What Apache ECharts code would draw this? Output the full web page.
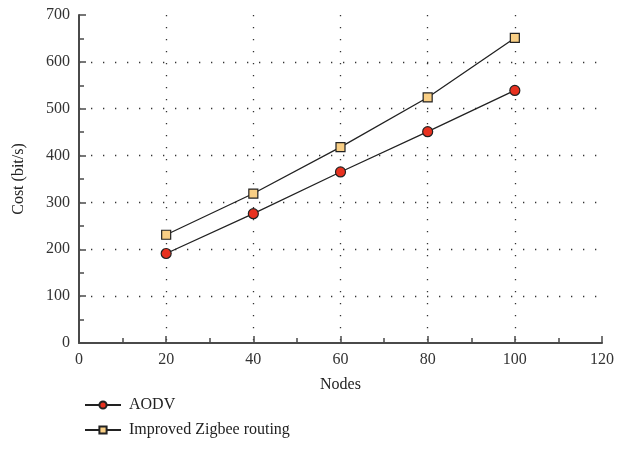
<!DOCTYPE html>
<html>
<head>
<meta charset="utf-8">
<script src="https://cdn.jsdelivr.net/npm/echarts@6/dist/echarts.min.js"></script>
<style>
  html, body { margin: 0; padding: 0; background: #fff; }
  #main { width: 617px; height: 466px; }
</style>
</head>
<body>
<div id="main"></div>
<script>
// data
const nodes = [20, 40, 60, 80, 100]
const aodv = [191, 276, 365, 451, 539]
const zigbee = [231, 319, 418, 524, 651]
const seriesNames = ['AODV', 'Improved Zigbee routing']

const font = 'Liberation Serif'
const axisColor = '#4a4a4a'
const dotted = { color: '#333', width: 1.3, type: [1.3, 10.7] }

const chart = echarts.init(document.getElementById('main'))

const option = {
  animation: false,
  textStyle: { fontFamily: font },
  grid: { left: 79, right: 14, top: 15, bottom: 123 },
  legend: {
    orient: 'vertical',
    left: 79,
    top: 392,
    itemWidth: 36,
    itemHeight: 9,
    itemGap: 9,
    textStyle: { fontFamily: font, fontSize: 16, color: '#222', padding: [0, 0, 0, 3] },
    data: seriesNames
  },
  xAxis: {
    type: 'value',
    min: 0,
    max: 120,
    interval: 20,
    name: 'Nodes',
    nameLocation: 'middle',
    nameGap: 34,
    nameTextStyle: { fontFamily: font, fontSize: 16, color: '#222' },
    axisLine: { lineStyle: { color: axisColor, width: 2 } },
    axisTick: { inside: true, length: 7, lineStyle: { color: axisColor, width: 1.5 } },
    minorTick: { show: true, splitNumber: 2, length: 5, lineStyle: { color: axisColor, width: 1.5 } },
    axisLabel: { fontFamily: font, fontSize: 16, color: '#333', margin: 9 },
    splitLine: {
      show: true,
      lineStyle: {
        ...dotted,
        color: ['rgba(0,0,0,0)', '#333', '#333', '#333', '#333', '#333', 'rgba(0,0,0,0)']
      }
    }
  },
  yAxis: {
    type: 'value',
    min: 0,
    max: 700,
    interval: 100,
    name: 'Cost (bit/s)',
    nameLocation: 'middle',
    nameGap: 52,
    nameTextStyle: { fontFamily: font, fontSize: 16, color: '#222' },
    axisLine: { show: true, lineStyle: { color: axisColor, width: 2 } },
    axisTick: { show: true, inside: true, length: 7, lineStyle: { color: axisColor, width: 1.5 } },
    minorTick: { show: true, splitNumber: 2, length: 5, lineStyle: { color: axisColor, width: 1.5 } },
    axisLabel: { fontFamily: font, fontSize: 16, color: '#333', margin: 9 },
    splitLine: {
      show: true,
      lineStyle: {
        ...dotted,
        color: ['rgba(0,0,0,0)', '#333', '#333', '#333', '#333', '#333', '#333', 'rgba(0,0,0,0)']
      }
    }
  },
  series: [
    {
      name: seriesNames[0],
      type: 'line',
      data: nodes.map((n, i) => [n, aodv[i]]),
      symbol: 'circle',
      symbolSize: 10,
      lineStyle: { color: '#222', width: 1.3 },
      itemStyle: { color: '#e8311f', borderColor: '#222', borderWidth: 1.2 }
    },
    {
      name: seriesNames[1],
      type: 'line',
      data: nodes.map((n, i) => [n, zigbee[i]]),
      symbol: 'rect',
      symbolSize: 9,
      lineStyle: { color: '#222', width: 1.3 },
      itemStyle: { color: '#f9cf85', borderColor: '#222', borderWidth: 1.2 }
    }
  ]
}

chart.setOption(option)
</script>
</body>
</html>
